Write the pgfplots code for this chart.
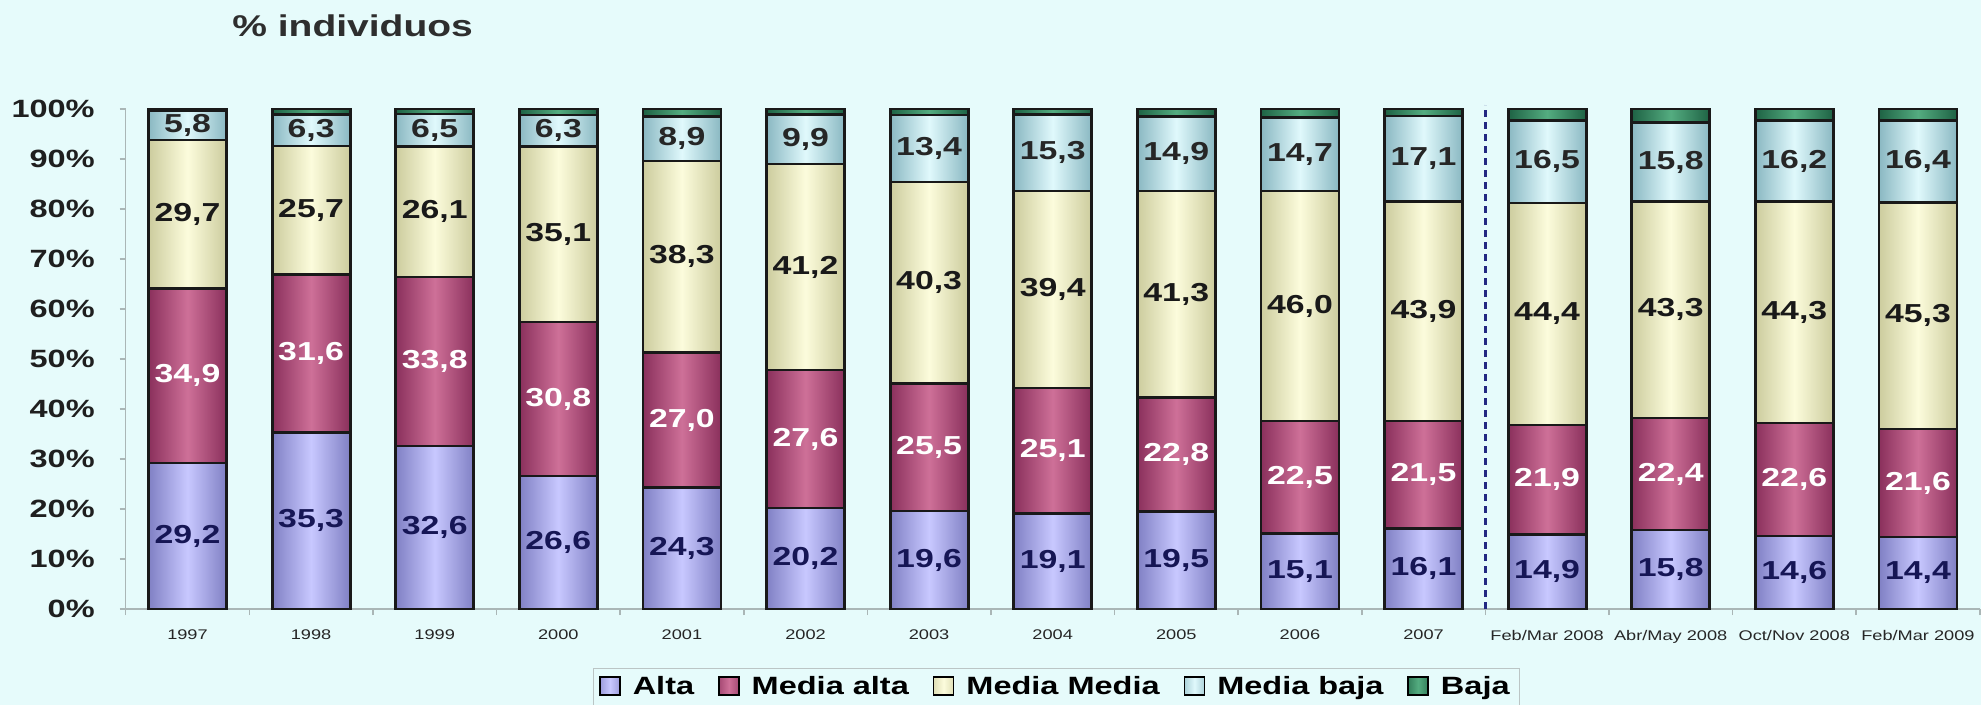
\documentclass[border=0pt]{standalone}
\usepackage{pgfplots}
\pgfplotsset{compat=1.18}
\usepackage{pgfplotstable}
\usepackage{fontspec}
\setmainfont{Liberation Sans}[FakeStretch=1.3]

\definecolor{bgcol}{RGB}{230,251,251}
\definecolor{altaC}{RGB}{200,200,255}
\definecolor{altaE}{RGB}{128,128,196}
\definecolor{maltaC}{RGB}{206,112,152}
\definecolor{maltaE}{RGB}{138,48,92}
\definecolor{mmedC}{RGB}{252,252,220}
\definecolor{mmedE}{RGB}{204,204,158}
\definecolor{mbajC}{RGB}{224,249,252}
\definecolor{mbajE}{RGB}{138,184,194}
\definecolor{bajaC}{RGB}{84,172,128}
\definecolor{bajaE}{RGB}{30,98,68}
\definecolor{navyT}{RGB}{22,22,85}
\definecolor{sepC}{RGB}{35,40,130}
\definecolor{axisC}{RGB}{170,182,182}

% share of individuals by class, one row per period
\pgfplotstableread{
x alta malta mmedia mbaja baja
0  29.2 34.9 29.7  5.8 0.4
1  35.3 31.6 25.7  6.3 1.1
2  32.6 33.8 26.1  6.5 1.0
3  26.6 30.8 35.1  6.3 1.2
4  24.3 27.0 38.3  8.9 1.5
5  20.2 27.6 41.2  9.9 1.1
6  19.6 25.5 40.3 13.4 1.2
7  19.1 25.1 39.4 15.3 1.1
8  19.5 22.8 41.3 14.9 1.5
9  15.1 22.5 46.0 14.7 1.7
10 16.1 21.5 43.9 17.1 1.4
11 14.9 21.9 44.4 16.5 2.3
12 15.8 22.4 43.3 15.8 2.7
13 14.6 22.6 44.3 16.2 2.3
14 14.4 21.6 45.3 16.4 2.3
}\datatable

% one stacked segment: flat bar underneath, a shaded cylinder-like face
% of the same height on top of it (centred on the segment), carrying the value label
\pgfplotsset{
  seg/.style n args={5}{% column, edge colour, centre colour, label colour, label text
    draw=black!90, line width=1.4bp, fill=#3!75!#2,
    legend image code/.code={%
      \draw[draw=black, line width=0.8bp, left color=#2!60!#3, right color=#2!60!#3, middle color=#3]
        (0bp,-4bp) rectangle (10bp,5bp);},
    visualization depends on={\thisrow{#1}\as\rawy},
    nodes near coords={#5},
    every node near coord/.append style={anchor=center, inner sep=0pt, outer sep=0pt,
      minimum width=39bp, minimum height=\rawy*2.5bp,
      draw=black!90, line width=1.4bp,
      left color=#2, right color=#2, middle color=#3, text=#4,
      font=\fontsize{13bp}{15bp}\selectfont\bfseries},
  },
}
\newcommand\vallab{\pgfmathprintnumber[fixed,fixed zerofill,precision=1,use comma,assume math mode=true]{\rawy}}

\begin{document}
\begin{tikzpicture}
\fill[bgcol] (0bp,0bp) rectangle (990.5bp,352.5bp);
\path[use as bounding box] (0bp,0bp) rectangle (990.5bp,352.5bp);
\node[anchor=base west, inner sep=0pt, text=black!82,
  font=\fontsize{15bp}{18bp}\selectfont\bfseries] at (116bp,334bp) {\% individuos};
\begin{axis}[
  at={(62.85bp,48bp)}, anchor=south west,
  scale only axis, width=927bp, height=250bp,
  xmin=-0.5, xmax=14.5, ymin=0, ymax=100,
  ybar stacked, bar width=39bp,
  clip=false,
  axis lines*=left,
  axis line style={draw=axisC, line width=0.8bp},
  tick align=outside,
  xtick={0,...,14},
  xticklabels={1997,1998,1999,2000,2001,2002,2003,2004,2005,2006,2007,Feb/Mar 2008,Abr/May 2008,Oct/Nov 2008,Feb/Mar 2009},
  x tick label style={font=\fontsize{7bp}{8bp}\selectfont, text=black!85, yshift=-4bp},
  major x tick style={draw=none},
  minor xtick={-0.5,0.5,...,14.5},
  minor x tick style={draw=axisC, line width=0.8bp},
  minor tick length=3bp,
  ytick={0,10,...,100},
  yticklabels={0\%,10\%,20\%,30\%,40\%,50\%,60\%,70\%,80\%,90\%,100\%},
  y tick label style={font=\fontsize{12.5bp}{15bp}\selectfont\bfseries, text=black!88, xshift=-9bp},
  major y tick style={draw=axisC, line width=0.8bp},
  major tick length=3bp,
  legend columns=-1,
  legend style={at={(0.502,-0.118)}, anchor=north, draw=axisC!80, fill=bgcol,
    font=\fontsize{12.5bp}{15bp}\selectfont\bfseries, inner xsep=3bp, inner ysep=2bp,
    /tikz/every odd column/.append style={column sep=4bp},
    /tikz/every even column/.append style={column sep=10bp}},
]
\addplot[seg={alta}{altaE}{altaC}{navyT}{\vallab}] table[x=x,y=alta]{\datatable};
\addplot[seg={malta}{maltaE}{maltaC}{white}{\vallab}] table[x=x,y=malta]{\datatable};
\addplot[seg={mmedia}{mmedE}{mmedC}{black!90}{\vallab}] table[x=x,y=mmedia]{\datatable};
\addplot[seg={mbaja}{mbajE}{mbajC}{black!85}{\vallab}] table[x=x,y=mbaja]{\datatable};
\addplot[seg={baja}{bajaE}{bajaC}{black}{}] table[x=x,y=baja]{\datatable};
\legend{Alta,Media alta,Media Media,Media baja,Baja}
\draw[sepC, line width=1.5bp, dash pattern=on 3.5bp off 2.5bp]
  (axis cs:10.5,0) -- (axis cs:10.5,100.8);
\end{axis}
\end{tikzpicture}
\end{document}
